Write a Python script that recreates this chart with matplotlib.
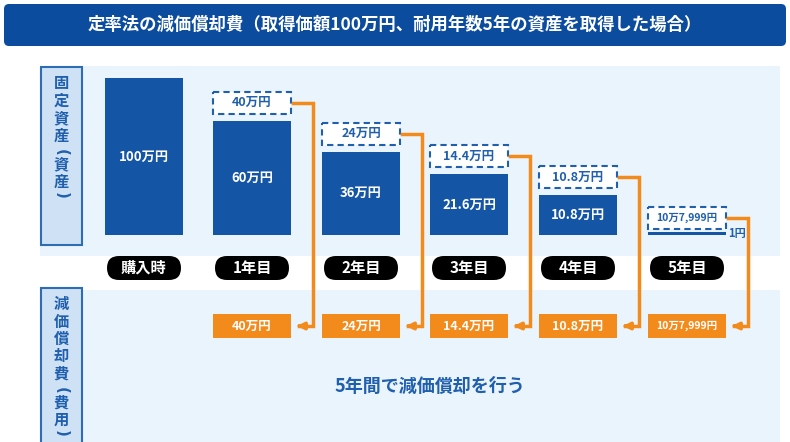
import matplotlib
matplotlib.use("Agg")
import matplotlib.pyplot as plt
from matplotlib.patches import FancyBboxPatch, Rectangle
import numpy as np

plt.rcParams['font.family'] = ['Noto Sans CJK JP', 'DejaVu Sans']

title = "定率法の減価償却費（取得価額100万円、耐用年数5年の資産を取得した場合）"
periods = ["購入時", "1年目", "2年目", "3年目", "4年目", "5年目"]
book_values = [1000000, 600000, 360000, 216000, 108000, 1]
book_labels = ["100万円", "60万円", "36万円", "21.6万円", "10.8万円", "1円"]
depreciation = [None, 400000, 240000, 144000, 108000, 107999]
dep_labels = [None, "40万円", "24万円", "14.4万円", "10.8万円", "10万7,999円"]
footer = "5年間で減価償却を行う"

BLUE = "#1455a6"; DBLUE = "#0b4c9e"; ORANGE = "#f28a1c"; LIGHT = "#eaf4fc"

fig = plt.figure(figsize=(7.9, 4.42), dpi=100)
ax = fig.add_axes([0, 0, 1, 1])
ax.set_xlim(0, 790); ax.set_ylim(442, 0); ax.axis("off")

ax.add_patch(FancyBboxPatch((4, 4), 782, 42, boxstyle="round,pad=0,rounding_size=5", fc=DBLUE, ec="none"))
ax.text(395, 25, title, color="white", fontsize=12.5, fontweight="bold", ha="center", va="center")

ax.add_patch(Rectangle((40, 66), 740, 190, fc=LIGHT, ec="none"))
ax.add_patch(Rectangle((40, 290), 740, 152, fc=LIGHT, ec="none"))
for (y0, y1, s) in [(67, 245, "固定資産(資産)"), (288, 445, "減価償却費(費用)")]:
    ax.add_patch(Rectangle((41, y0), 41, y1 - y0, fc="#cfe2f5", ec="#2e6cb4", lw=1.5))
    y = y0 + 16
    for ch in s:
        if ch in "()":
            yy = y - 1 if ch == "(" else y - 4
            ax.text(61.5, yy, ch, color="#1f5fae", fontsize=11, fontweight="bold",
                    ha="center", va="center", rotation=-90, family="DejaVu Sans")
            y += 11
        else:
            ax.text(61.5, y, ch, color="#1f5fae", fontsize=11, fontweight="bold", ha="center", va="center")
            y += 17.5

centers = [144, 252, 361, 469, 578, 687]
bw = 78
base = 235
def height(v):
    return 157 * (v / book_values[0]) ** 0.62 if v > 1 else 3

for i, c in enumerate(centers):
    h = height(book_values[i])
    top = base - h
    ax.add_patch(Rectangle((c - bw / 2, top), bw, h, fc=BLUE, ec="none"))
    if i < 5:
        ax.text(c, top + h / 2, book_labels[i], color="white", fontsize=9.5, fontweight="bold", ha="center", va="center")
    else:
        ax.text(c + bw / 2 + 2, base - 1, book_labels[i], color="#1f5fae", fontsize=8, fontweight="bold", ha="left", va="center")
    ax.add_patch(FancyBboxPatch((c - 37, 256), 74, 24, boxstyle="round,pad=0,rounding_size=12", fc="black", ec="none"))
    ax.text(c, 268, periods[i], color="white", fontsize=11, fontweight="bold", ha="center", va="center")
    if depreciation[i] is None:
        continue
    bh = 22
    btop = top - 7 - bh if i < 5 else base - 6 - bh
    ax.add_patch(Rectangle((c - bw / 2, btop), bw, bh, fc="white", ec="#1f5fae", lw=1.5, ls=(0, (3, 2))))
    ax.text(c, btop + bh / 2, dep_labels[i], color="#1f5fae", fontsize=9 if i < 5 else 7.5, fontweight="bold", ha="center", va="center")
    ax.add_patch(Rectangle((c - bw / 2, 314), bw, 24, fc=ORANGE, ec="none"))
    ax.text(c, 326, dep_labels[i], color="white", fontsize=9 if i < 5 else 7.5, fontweight="bold", ha="center", va="center")
    xr = c + bw / 2 + 22
    ym = btop + bh / 2
    ax.plot([c + bw / 2 + 2, xr, xr, c + bw / 2 + 8], [ym, ym, 326, 326], color=ORANGE, lw=2.5, solid_joinstyle="miter")
    ax.annotate("", xy=(c + bw / 2 + 3, 326), xytext=(c + bw / 2 + 12, 326),
                arrowprops=dict(arrowstyle="-|>", color=ORANGE, lw=2.5, mutation_scale=10))

ax.text(430, 386, footer, color="#1f5fae", fontsize=13, fontweight="bold", ha="center", va="center")

fig.savefig("out.png", dpi=100)
